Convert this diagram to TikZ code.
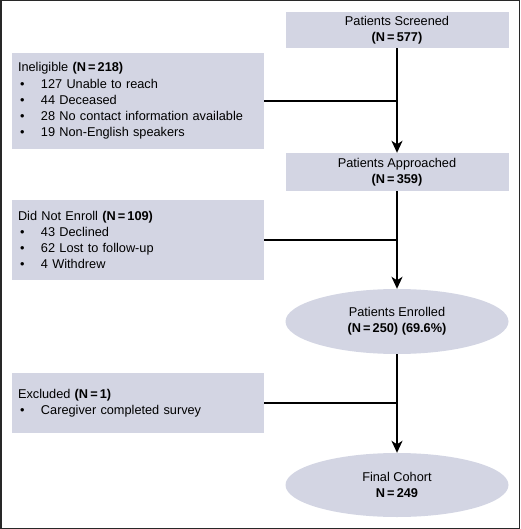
\documentclass[tikz,border=0pt]{standalone}
\usepackage{fontspec}
\setmainfont{Liberation Sans}
\usetikzlibrary{shapes.geometric,arrows.meta}
\definecolor{boxfill}{RGB}{211,213,227}
\definecolor{framecol}{RGB}{40,40,40}
\newcommand{\bul}{\makebox[23pt][l]{\hspace{2pt}•}}
\begin{document}
\begin{tikzpicture}[x=1pt,y=-1pt,
  box/.style={rectangle,fill=boxfill,draw=none,inner sep=0pt,font=\fontsize{12.75}{16.2}\selectfont},
  mainbox/.style={box,align=center,minimum width=223pt,minimum height=36pt},
  sidebox/.style={box,align=left,minimum width=252pt,text width=240pt},
  oval/.style={ellipse,fill=boxfill,draw=none,inner sep=0pt,minimum width=223pt,minimum height=65pt,align=center,font=\fontsize{12.75}{16.2}\selectfont},
  conn/.style={line width=1.9pt,draw=black},
  arr/.style={conn,-{Stealth[length=12pt,width=11pt,inset=3.5pt]}}]
\useasboundingbox (0,0) rectangle (520,529);
\draw[framecol,line width=1.5pt] (0.75,0.75) rectangle (519.25,528.25);
\node[mainbox] (scr) at (397,30) {Patients Screened\\\textbf{(N\,=\,577)}};
\node[sidebox,minimum height=96pt] (inel) at (138,101) {Ineligible \textbf{(N\,=\,218)}\\
\bul 127 Unable to reach\\
\bul 44 Deceased\\
\bul 28 No contact information available\\
\bul 19 Non-English speakers};
\node[mainbox,minimum height=38pt] (app) at (397,172) {Patients Approached\\\textbf{(N\,=\,359)}};
\node[sidebox,minimum height=79pt] (dne) at (138,240) {Did Not Enroll \textbf{(N\,=\,109)}\\
\bul 43 Declined\\
\bul 62 Lost to follow-up\\
\bul 4 Withdrew};
\node[oval] (enr) at (397,321.5) {Patients Enrolled\\\textbf{(N\,=\,250) (69.6\%)}};
\node[sidebox,minimum height=60pt] (exc) at (138,403) {Excluded \textbf{(N\,=\,1)}\\
\bul Caregiver completed survey};
\node[oval,minimum height=64pt] (fin) at (397,485) {Final Cohort\\\textbf{N\,=\,249}};
\draw[arr] (scr.south) -- (app.north);
\draw[arr] (app.south) -- (enr.north);
\draw[arr] (enr.south) -- (fin.north);
\draw[conn] (inel.east) -- (inel.east -| scr.south);
\draw[conn] (dne.east) -- (dne.east -| app.south);
\draw[conn] (exc.east) -- (exc.east -| enr.south);
\end{tikzpicture}
\end{document}
